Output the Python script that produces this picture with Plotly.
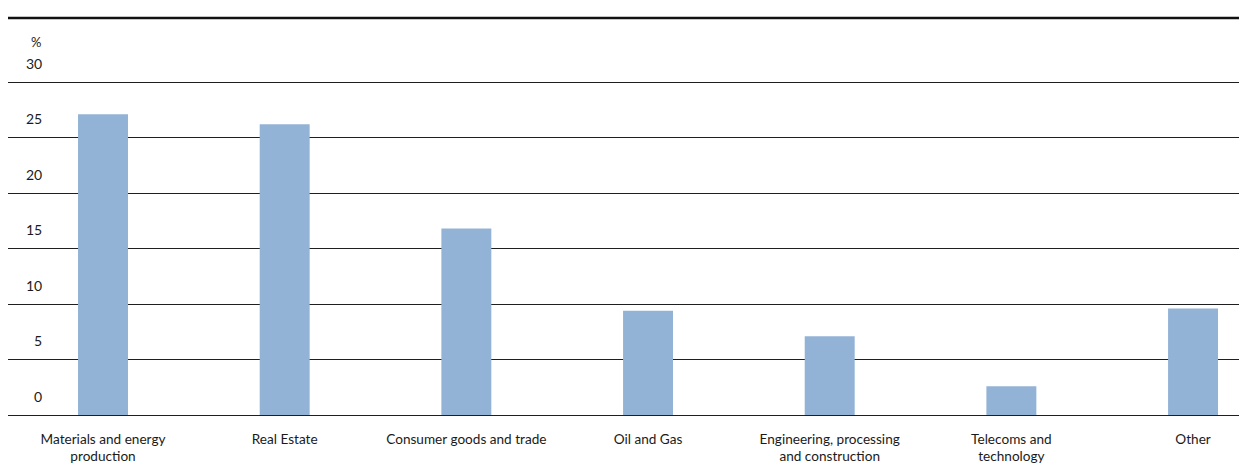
import plotly.graph_objects as go

# Sector shares, per cent
sectors = [
    "Materials and energy<br>production",
    "Real Estate",
    "Consumer goods and trade",
    "Oil and Gas",
    "Engineering, processing<br>and construction",
    "Telecoms and<br>technology",
    "Other",
]
shares = [27.1, 26.2, 16.8, 9.4, 7.1, 2.6, 9.6]
y_ticks = [0, 5, 10, 15, 20, 25, 30]
y_tick_labels = ["0", "5", "10", "15", "20", "25", "30"]

FONT = "Lato, 'Open Sans', sans-serif"
TEXT = "#1a1a1a"

fig = go.Figure(
    go.Bar(
        x=list(range(len(sectors))),
        y=shares,
        width=0.275,
        marker=dict(color="#93B3D6", line=dict(width=0)),
        hoverinfo="skip",
    )
)

fig.update_layout(
    width=1239,
    height=464,
    margin=dict(l=8, r=0, t=18, b=49),
    paper_bgcolor="white",
    plot_bgcolor="white",
    showlegend=False,
    font=dict(family=FONT, size=14, color=TEXT),
    xaxis=dict(
        range=[-0.523, 6.253],
        tickmode="array",
        tickvals=list(range(len(sectors))),
        ticktext=sectors,
        showgrid=False,
        zeroline=False,
        showline=False,
        ticks="",
        automargin=False,
        ticklabelstandoff=14,
        tickfont=dict(family=FONT, size=13.6, color=TEXT),
    ),
    yaxis=dict(
        range=[0, 35.77],
        tickmode="array",
        tickvals=y_ticks,
        showticklabels=False,
        showgrid=True,
        gridcolor="#1f1f1f",
        gridwidth=1.2,
        zeroline=True,
        zerolinecolor="#1f1f1f",
        zerolinewidth=1.2,
        ticks="",
        automargin=False,
    ),
)

# Heavy rule across the top of the chart
fig.add_shape(
    type="line", xref="paper", yref="paper",
    x0=0, x1=1, y0=1, y1=1,
    line=dict(color="#111111", width=2.5),
)

# Value labels sit just above each gridline
for v, lab in zip(y_ticks, y_tick_labels):
    fig.add_annotation(
        xref="paper", yref="y", x=0, y=v,
        xshift=36, yshift=19,
        text=lab, showarrow=False,
        xanchor="right", yanchor="middle",
        font=dict(family=FONT, size=14, color=TEXT),
    )

# Unit label above the scale
fig.add_annotation(
    xref="paper", yref="y", x=0, y=30,
    xshift=35, yshift=40,
    text="%", showarrow=False,
    xanchor="right", yanchor="middle",
    font=dict(family=FONT, size=13, color=TEXT),
)

fig.write_html("out.html")
